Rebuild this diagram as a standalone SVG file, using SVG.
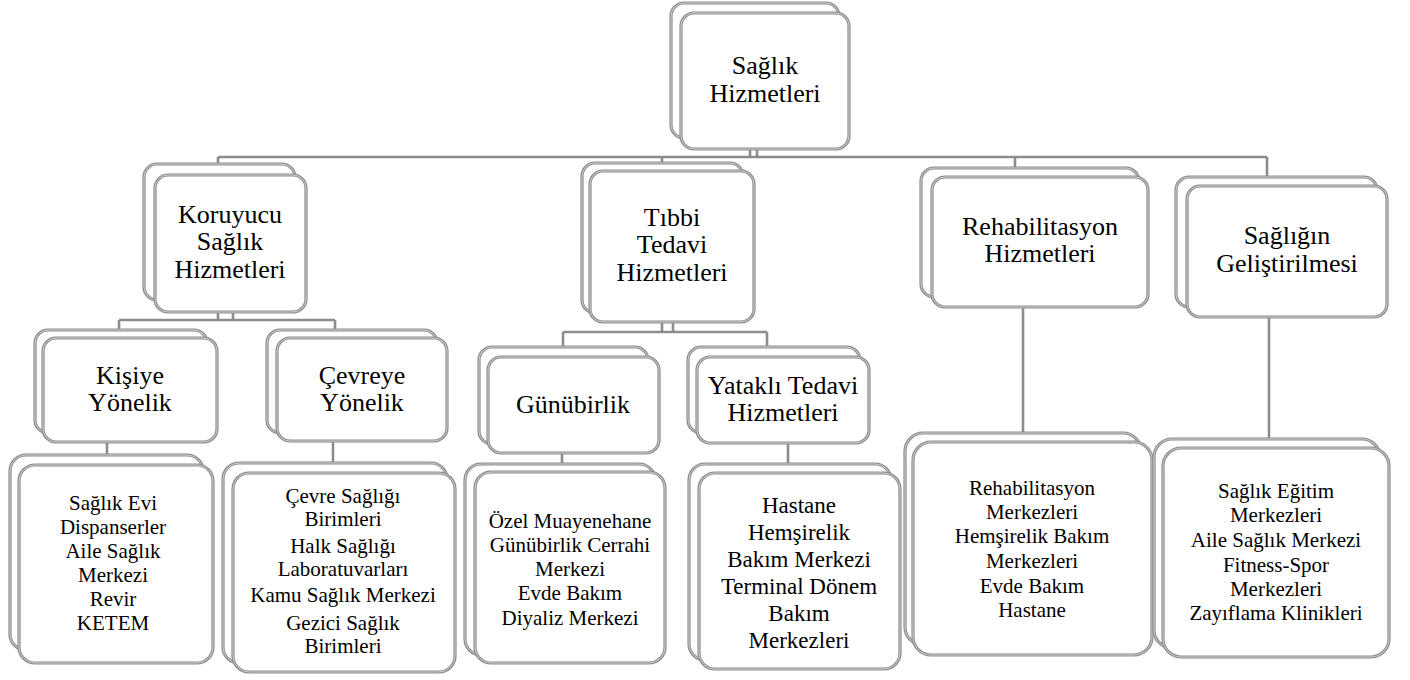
<svg xmlns="http://www.w3.org/2000/svg" width="1410" height="680" viewBox="0 0 1410 680" font-family="Liberation Serif, Tinos, DejaVu Serif, Times New Roman, serif">
<style>
.o{fill:#fff;stroke:#8c8c8c;stroke-width:3.2}
.h{fill:none;stroke:#d6d6d6;stroke-width:0.9}
.c{fill:none;stroke:#8c8c8c;stroke-width:2.6}
text{fill:#000;text-anchor:middle}
.t{font-size:26px}
.s{font-size:21px}
.m{font-size:23px}
</style>
<rect width="1410" height="680" fill="#fff"/>
<g id="connectors">
<path class="c" d="M750,149V157M757,149V157M218,157H1267M218,157V164M662,157V163M1015,157V168M1267,157V177"/>
<path class="c" d="M218,312V320M233,312V320M119,320H335M119,320V330M335,320V330"/>
<path class="c" d="M662,322V332M673,322V332M563,332H767M563,332V347M767,332V347"/>
<path class="c" d="M107,442V455M333,441V463M562,453V464M788,443V464M1023,307V433M1269,317V439"/>
</g>
<g id="n-saglik-hizmetleri">
<rect class="o" x="671" y="3" width="168" height="135" rx="13"/><rect class="h" x="671" y="3" width="168" height="135" rx="13"/>
<rect class="o" x="681" y="13" width="168" height="136" rx="13"/><rect class="h" x="681" y="13" width="168" height="136" rx="13"/>
<text class="t" x="765" y="74">Sağlık</text><text class="t" x="765" y="102">Hizmetleri</text>
</g>
<g id="n-koruyucu">
<rect class="o" x="144" y="164" width="151" height="136" rx="13"/><rect class="h" x="144" y="164" width="151" height="136" rx="13"/>
<rect class="o" x="155" y="175" width="151" height="137" rx="13"/><rect class="h" x="155" y="175" width="151" height="137" rx="13"/>
<text class="t" x="230" y="223">Koruyucu</text><text class="t" x="230" y="250">Sağlık</text><text class="t" x="230" y="278">Hizmetleri</text>
</g>
<g id="n-tibbi">
<rect class="o" x="582" y="163" width="161" height="150" rx="13"/><rect class="h" x="582" y="163" width="161" height="150" rx="13"/>
<rect class="o" x="590" y="171" width="164" height="151" rx="13"/><rect class="h" x="590" y="171" width="164" height="151" rx="13"/>
<text class="t" x="672" y="226">Tıbbi</text><text class="t" x="672" y="253">Tedavi</text><text class="t" x="672" y="281">Hizmetleri</text>
</g>
<g id="n-rehab">
<rect class="o" x="921" y="168" width="218" height="129" rx="13"/><rect class="h" x="921" y="168" width="218" height="129" rx="13"/>
<rect class="o" x="932" y="177" width="216" height="130" rx="13"/><rect class="h" x="932" y="177" width="216" height="130" rx="13"/>
<text class="t" x="1040" y="235">Rehabilitasyon</text><text class="t" x="1040" y="262">Hizmetleri</text>
</g>
<g id="n-gelistirme">
<rect class="o" x="1176" y="177" width="201" height="130" rx="13"/><rect class="h" x="1176" y="177" width="201" height="130" rx="13"/>
<rect class="o" x="1187" y="186" width="200" height="131" rx="13"/><rect class="h" x="1187" y="186" width="200" height="131" rx="13"/>
<text class="t" x="1287" y="244">Sağlığın</text><text class="t" x="1287" y="272">Geliştirilmesi</text>
</g>
<g id="n-kisiye">
<rect class="o" x="35" y="330" width="172" height="103" rx="13"/><rect class="h" x="35" y="330" width="172" height="103" rx="13"/>
<rect class="o" x="43" y="338" width="174" height="104" rx="13"/><rect class="h" x="43" y="338" width="174" height="104" rx="13"/>
<text class="t" x="130" y="384">Kişiye</text><text class="t" x="130" y="411">Yönelik</text>
</g>
<g id="n-cevreye">
<rect class="o" x="267" y="330" width="170" height="103" rx="13"/><rect class="h" x="267" y="330" width="170" height="103" rx="13"/>
<rect class="o" x="277" y="338" width="170" height="103" rx="13"/><rect class="h" x="277" y="338" width="170" height="103" rx="13"/>
<text class="t" x="362" y="384">Çevreye</text><text class="t" x="362" y="411">Yönelik</text>
</g>
<g id="n-gunubirlik">
<rect class="o" x="479" y="347" width="169" height="97" rx="13"/><rect class="h" x="479" y="347" width="169" height="97" rx="13"/>
<rect class="o" x="488" y="357" width="171" height="96" rx="13"/><rect class="h" x="488" y="357" width="171" height="96" rx="13"/>
<text class="t" x="573" y="413">Günübirlik</text>
</g>
<g id="n-yatakli">
<rect class="o" x="688" y="347" width="172" height="86" rx="13"/><rect class="h" x="688" y="347" width="172" height="86" rx="13"/>
<rect class="o" x="697" y="357" width="172" height="86" rx="13"/><rect class="h" x="697" y="357" width="172" height="86" rx="13"/>
<text class="t" x="783" y="394">Yataklı Tedavi</text><text class="t" x="783" y="421">Hizmetleri</text>
</g>
<g id="n-kisiye-list">
<rect class="o" x="10" y="455" width="193" height="195" rx="16"/><rect class="h" x="10" y="455" width="193" height="195" rx="16"/>
<rect class="o" x="19" y="465" width="194" height="198" rx="16"/><rect class="h" x="19" y="465" width="194" height="198" rx="16"/>
<text class="s" x="113" y="510">Sağlık Evi</text><text class="s" x="113" y="534">Dispanserler</text><text class="s" x="113" y="558">Aile Sağlık</text><text class="s" x="113" y="582">Merkezi</text><text class="s" x="113" y="606">Revir</text><text class="s" x="113" y="630">KETEM</text>
</g>
<g id="n-cevreye-list">
<rect class="o" x="223" y="463" width="224" height="200" rx="16"/><rect class="h" x="223" y="463" width="224" height="200" rx="16"/>
<rect class="o" x="233" y="473" width="222" height="199" rx="16"/><rect class="h" x="233" y="473" width="222" height="199" rx="16"/>
<text class="s" x="343" y="503">Çevre Sağlığı</text><text class="s" x="343" y="526">Birimleri</text><text class="s" x="343" y="553">Halk Sağlığı</text><text class="s" x="343" y="576">Laboratuvarları</text><text class="s" x="343" y="602">Kamu Sağlık Merkezi</text><text class="s" x="343" y="630">Gezici Sağlık</text><text class="s" x="343" y="653">Birimleri</text>
</g>
<g id="n-gunubirlik-list">
<rect class="o" x="465" y="464" width="190" height="191" rx="16"/><rect class="h" x="465" y="464" width="190" height="191" rx="16"/>
<rect class="o" x="475" y="472" width="190" height="191" rx="16"/><rect class="h" x="475" y="472" width="190" height="191" rx="16"/>
<text class="s" x="570" y="528">Özel Muayenehane</text><text class="s" x="570" y="552">Günübirlik Cerrahi</text><text class="s" x="570" y="576">Merkezi</text><text class="s" x="570" y="600">Evde Bakım</text><text class="s" x="570" y="625">Diyaliz Merkezi</text>
</g>
<g id="n-yatakli-list">
<rect class="o" x="689" y="464" width="202" height="196" rx="16"/><rect class="h" x="689" y="464" width="202" height="196" rx="16"/>
<rect class="o" x="699" y="473" width="201" height="196" rx="16"/><rect class="h" x="699" y="473" width="201" height="196" rx="16"/>
<text class="m" x="799" y="513">Hastane</text><text class="m" x="799" y="540">Hemşirelik</text><text class="m" x="799" y="567">Bakım Merkezi</text><text class="m" x="799" y="594">Terminal Dönem</text><text class="m" x="799" y="621">Bakım</text><text class="m" x="799" y="648">Merkezleri</text>
</g>
<g id="n-rehab-list">
<rect class="o" x="905" y="433" width="236" height="212" rx="18"/><rect class="h" x="905" y="433" width="236" height="212" rx="18"/>
<rect class="o" x="913" y="442" width="239" height="213" rx="18"/><rect class="h" x="913" y="442" width="239" height="213" rx="18"/>
<text class="s" x="1032" y="495">Rehabilitasyon</text><text class="s" x="1032" y="519">Merkezleri</text><text class="s" x="1032" y="543">Hemşirelik Bakım</text><text class="s" x="1032" y="568">Merkezleri</text><text class="s" x="1032" y="593">Evde Bakım</text><text class="s" x="1032" y="617">Hastane</text>
</g>
<g id="n-gelistirme-list">
<rect class="o" x="1154" y="439" width="226" height="209" rx="18"/><rect class="h" x="1154" y="439" width="226" height="209" rx="18"/>
<rect class="o" x="1163" y="448" width="226" height="209" rx="18"/><rect class="h" x="1163" y="448" width="226" height="209" rx="18"/>
<text class="s" x="1276" y="498">Sağlık Eğitim</text><text class="s" x="1276" y="522">Merkezleri</text><text class="s" x="1276" y="547">Aile Sağlık Merkezi</text><text class="s" x="1276" y="572">Fitness-Spor</text><text class="s" x="1276" y="596">Merkezleri</text><text class="s" x="1276" y="620">Zayıflama Klinikleri</text>
</g>
</svg>
